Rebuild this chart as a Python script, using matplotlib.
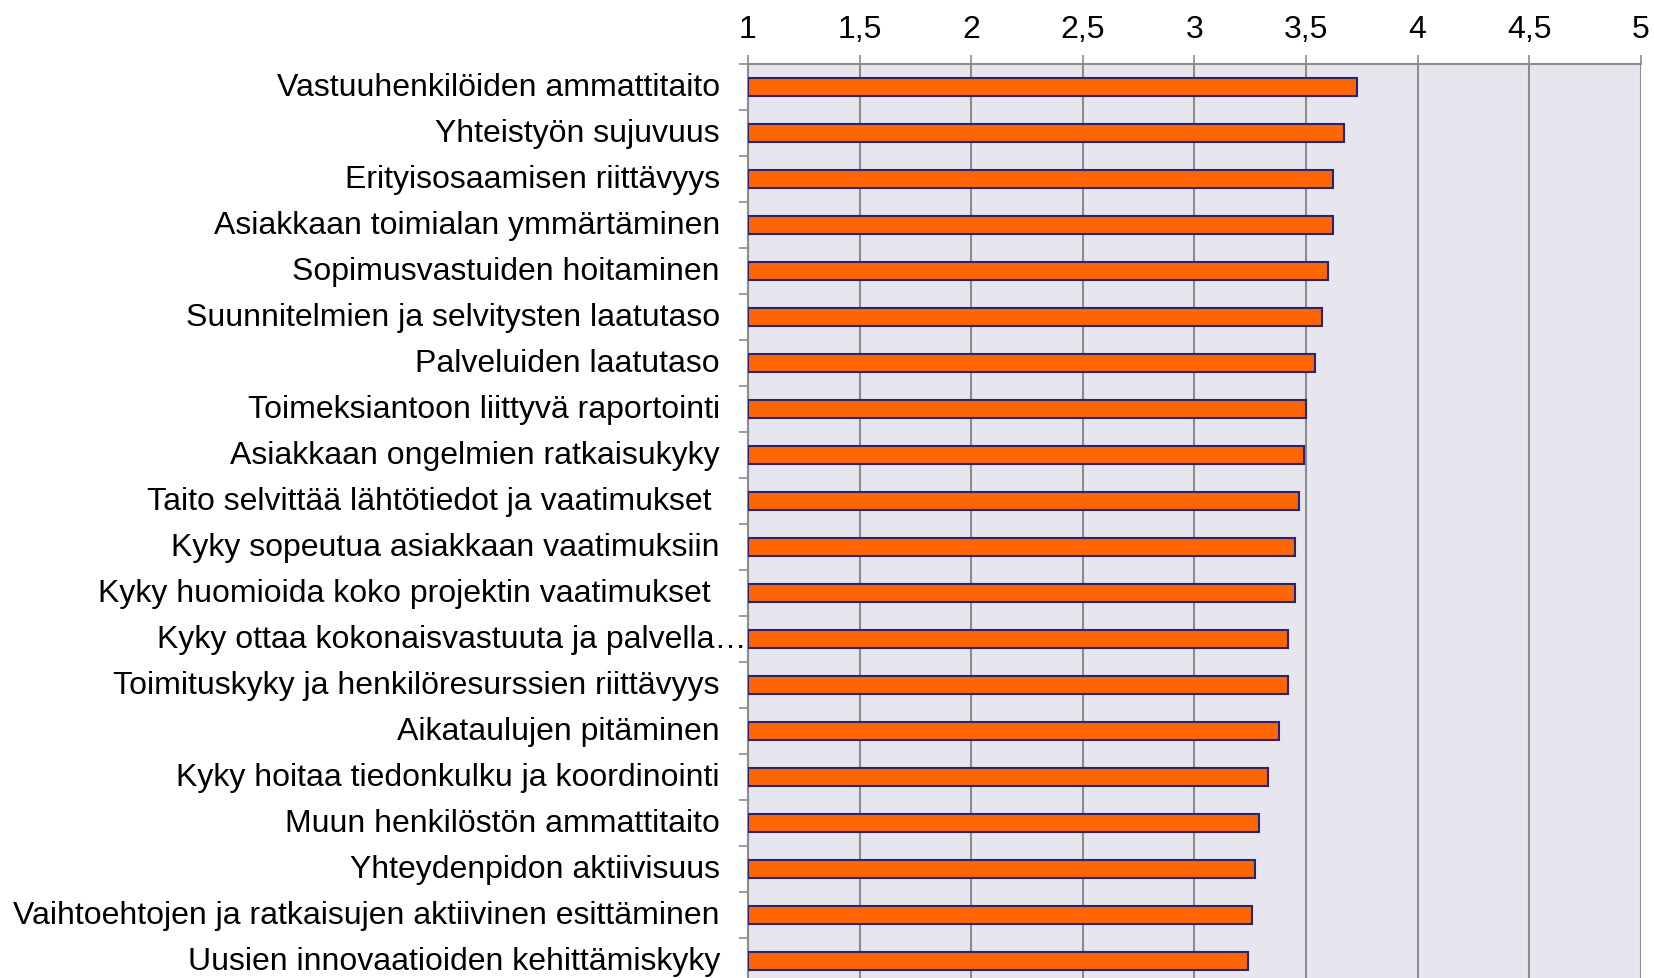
import matplotlib
matplotlib.use("Agg")
import matplotlib.pyplot as plt
import matplotlib.transforms as mtransforms
import numpy as np

plt.rcParams['font.family'] = ['Liberation Sans', 'DejaVu Sans']

# categories top to bottom
categories = [
    "Vastuuhenkilöiden ammattitaito",
    "Yhteistyön sujuvuus",
    "Erityisosaamisen riittävyys",
    "Asiakkaan toimialan ymmärtäminen",
    "Sopimusvastuiden hoitaminen",
    "Suunnitelmien ja selvitysten laatutaso",
    "Palveluiden laatutaso",
    "Toimeksiantoon liittyvä raportointi",
    "Asiakkaan ongelmien ratkaisukyky",
    "Taito selvittää lähtötiedot ja vaatimukset ",
    "Kyky sopeutua asiakkaan vaatimuksiin",
    "Kyky huomioida koko projektin vaatimukset ",
    "Kyky ottaa kokonaisvastuuta ja palvella…",
    "Toimituskyky ja henkilöresurssien riittävyys",
    "Aikataulujen pitäminen",
    "Kyky hoitaa tiedonkulku ja koordinointi",
    "Muun henkilöstön ammattitaito",
    "Yhteydenpidon aktiivisuus",
    "Vaihtoehtojen ja ratkaisujen aktiivinen esittäminen",
    "Uusien innovaatioiden kehittämiskyky",
]
values = [3.73, 3.67, 3.62, 3.62, 3.60, 3.57, 3.54, 3.50, 3.49, 3.47,
          3.45, 3.45, 3.42, 3.42, 3.38, 3.33, 3.29, 3.27, 3.26, 3.24]
xticks = [1, 1.5, 2, 2.5, 3, 3.5, 4, 4.5, 5]
xtick_labels = ["1", "1,5", "2", "2,5", "3", "3,5", "4", "4,5", "5"]

fig = plt.figure(figsize=(16.54, 9.79), dpi=100)
ax = fig.add_axes([0.4522, -0.006, 0.5399, 0.9396])
ax.set_facecolor('#E6E7EE')

y = np.arange(len(categories))
ax.barh(y, np.array(values) - 1, left=1, height=0.39, color='#FF6600',
        edgecolor='#24247A', linewidth=1.5, zorder=3)

ax.set_xlim(1, 5)
ax.set_ylim(len(categories) - 0.5, -0.5)
ax.xaxis.tick_top()
ax.set_xticks(xticks)
ax.set_xticklabels(xtick_labels, fontsize=23)
ax.tick_params(axis='x', direction='out', length=6.5, width=1.2, color='#8C8C8C', pad=8)
ax.grid(axis='x', color='#8C8C8C', linewidth=1.5, zorder=1)

ax.set_yticks([])
ax.set_yticks(np.arange(len(categories) + 1) - 0.5, minor=True)
ax.tick_params(axis='y', which='minor', direction='out', length=6.5, width=1.2, color='#8C8C8C')

for side in ['right', 'bottom']:
    ax.spines[side].set_visible(False)
for side in ['left', 'top']:
    ax.spines[side].set_color('#8C8C8C')
    ax.spines[side].set_linewidth(1.5)

base = mtransforms.blended_transform_factory(ax.transAxes, ax.transData)
for i, label in enumerate(categories):
    off = -1 if label.endswith('…') else -28
    tr = base + mtransforms.ScaledTranslation(off / 100, 0, fig.dpi_scale_trans)
    ax.text(0, i, label, transform=tr, ha='right', va='center', fontsize=23, clip_on=False)

fig.savefig('out.png', dpi=100)
